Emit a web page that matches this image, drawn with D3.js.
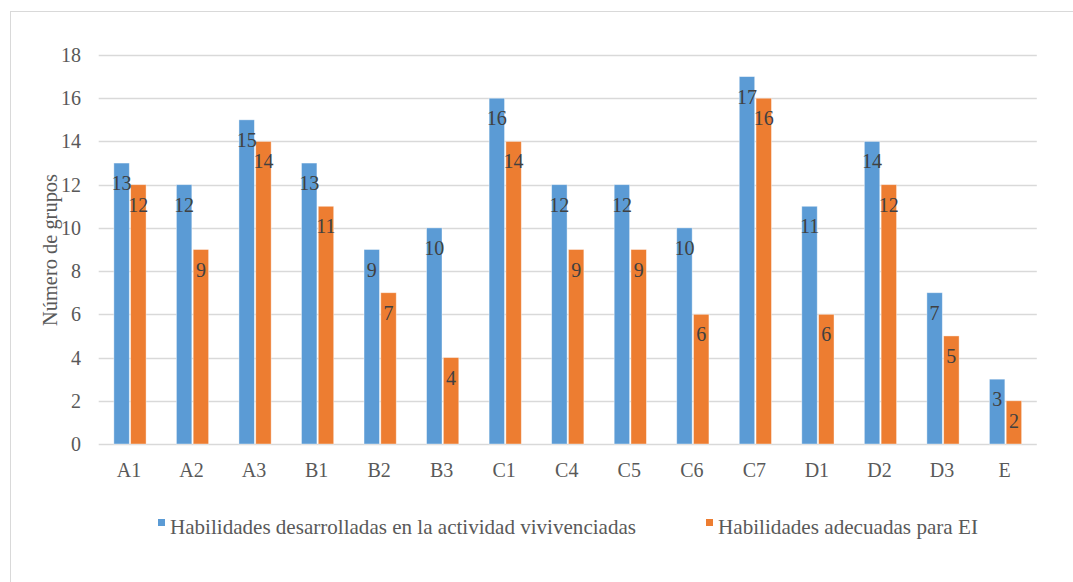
<!DOCTYPE html>
<html>
<head>
<meta charset="utf-8">
<script src="https://cdn.jsdelivr.net/npm/d3@7/dist/d3.min.js"></script>
<style>
  html, body { margin: 0; padding: 0; background: #fff; }
  svg { display: block; }
  text { font-family: "Liberation Serif", "Times New Roman", serif; }
</style>
</head>
<body>
<svg id="chart" width="1073" height="582"></svg>
<script>
// Groups along the x axis
const categories = ["A1", "A2", "A3", "B1", "B2", "B3", "C1", "C4", "C5", "C6", "C7", "D1", "D2", "D3", "E"];
// Skills developed in the hands-on activity
const desarrolladas = [13, 12, 15, 13, 9, 10, 16, 12, 12, 10, 17, 11, 14, 7, 3];
// Skills suitable for early-childhood education (EI)
const adecuadas = [12, 9, 14, 11, 7, 4, 14, 9, 9, 6, 16, 6, 12, 5, 2];
const seriesNames = ["Habilidades desarrolladas en la actividad vivivenciadas", "Habilidades adecuadas para EI"];
const yTicks = [0, 2, 4, 6, 8, 10, 12, 14, 16, 18];

const colors = ["#5B9BD5", "#ED7D31"];
const svg = d3.select("#chart");

// Chart frame (its right and bottom edges fall outside the page)
svg.append("rect")
  .attr("x", 10.5).attr("y", 11.5)
  .attr("width", 1100).attr("height", 620)
  .attr("fill", "#fff").attr("stroke", "#d9d9d9").attr("stroke-width", 1);

const plot = { left: 98.7, right: 1036.8, top: 55, bottom: 444 };

const x = d3.scaleBand().domain(categories).range([plot.left, plot.right]).paddingInner(0.485).paddingOuter(0.2425);
const x1 = d3.scaleBand().domain([0, 1]).range([0, x.bandwidth()]).paddingInner(0.08);
const y = d3.scaleLinear().domain([0, 18]).range([plot.bottom, plot.top]);

// Horizontal gridlines
svg.append("g").selectAll("line").data(yTicks).join("line")
  .attr("x1", plot.left).attr("x2", plot.right)
  .attr("y1", d => Math.round(y(d)) + 0.5).attr("y2", d => Math.round(y(d)) + 0.5)
  .attr("stroke", "#d9d9d9").attr("stroke-width", 1.3);

// Y tick labels
svg.append("g").selectAll("text").data(yTicks).join("text")
  .attr("x", 81).attr("y", d => y(d) + 7)
  .attr("text-anchor", "end")
  .attr("font-size", 20).attr("fill", "#595959")
  .text(d => d);

// Y axis title
svg.append("text")
  .attr("transform", `translate(57,250) rotate(-90)`)
  .attr("text-anchor", "middle")
  .attr("font-size", 20).attr("fill", "#595959")
  .attr("textLength", 152).attr("lengthAdjust", "spacingAndGlyphs")
  .text("Número de grupos");

// X category labels
svg.append("g").selectAll("text").data(categories).join("text")
  .attr("x", d => x(d) + x.bandwidth() / 2 - 1)
  .attr("y", 477)
  .attr("text-anchor", "middle")
  .attr("font-size", 20).attr("fill", "#595959")
  .text(d => d);

const series = [desarrolladas, adecuadas];
const rows = categories.map((c, i) => ({ cat: c, vals: series.map(s => s[i]) }));

const groups = svg.append("g").selectAll("g").data(rows).join("g")
  .attr("transform", d => `translate(${x(d.cat)},0)`);

groups.selectAll("rect").data(d => d.vals.map((v, k) => ({ v, k }))).join("rect")
  .attr("x", d => x1(d.k))
  .attr("y", d => y(d.v))
  .attr("width", x1.bandwidth())
  .attr("height", d => y(0) - y(d.v))
  .attr("fill", d => colors[d.k])
  .attr("stroke", "#fff").attr("stroke-opacity", 0.5).attr("stroke-width", 0.8);

// Value labels inside the bar tops
groups.selectAll("text").data(d => d.vals.map((v, k) => ({ v, k }))).join("text")
  .attr("x", d => x1(d.k) + x1.bandwidth() / 2)
  .attr("y", d => y(d.v) + 27)
  .attr("text-anchor", "middle")
  .attr("font-size", 20).attr("fill", "#404040")
  .text(d => d.v);

// Legend
const legendItems = [
  { name: seriesNames[0], sx: 158, tx: 170, w: 466 },
  { name: seriesNames[1], sx: 706, tx: 718, w: 260 }
];
const lg = svg.append("g").selectAll("g").data(legendItems).join("g");
lg.append("rect")
  .attr("x", d => d.sx).attr("y", 519)
  .attr("width", 7).attr("height", 7)
  .attr("fill", (d, i) => colors[i]);
lg.append("text")
  .attr("x", d => d.tx).attr("y", 534)
  .attr("font-size", 21).attr("fill", "#595959")
  .attr("textLength", d => d.w).attr("lengthAdjust", "spacingAndGlyphs")
  .text(d => d.name);
</script>
</body>
</html>
